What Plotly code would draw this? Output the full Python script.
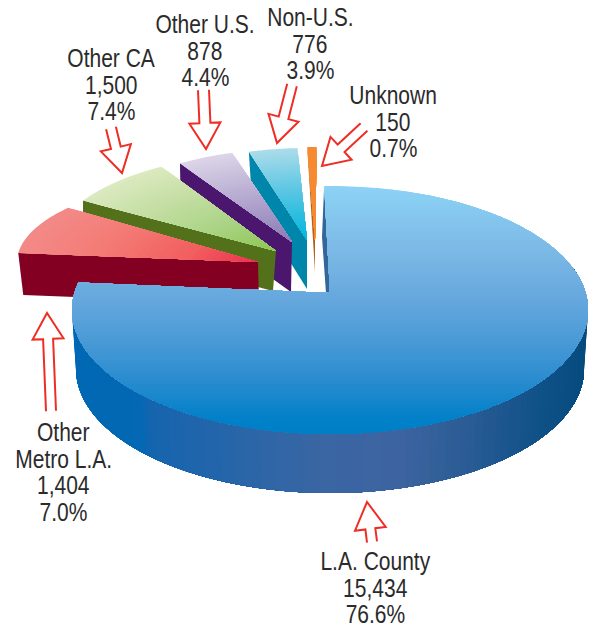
import math
import plotly.graph_objects as go

# ---- data ----
names = ["L.A. County", "Other Metro L.A.", "Other CA", "Other U.S.", "Non-U.S.", "Unknown"]
values = [15434, 1404, 1500, 878, 776, 150]
value_labels = ["15,434", "1,404", "1,500", "878", "776", "150"]
pct_labels = ["76.6%", "7.0%", "7.4%", "4.4%", "3.9%", "0.7%"]

# ---- style: projection of each exploded slice on the page ----
W, H = 594, 628
FONT = "Liberation Sans"
STYLE = {
    "Other Metro L.A.": dict(apex=(258, 262), rx=241, ry=88, k=1.28, shift=0, depth=42, skew=(1, 5),
                             ramp=[(0, "#ec3050"), (.3, "#f1605f"), (.7, "#f47d78"), (1, "#f38a88")], face="#830022"),
    "Other CA": dict(apex=(276, 251), rx=225, ry=98, k=1.06, shift=0, depth=40, skew=(-3, 0),
                     ramp=[(0, "#8cc653"), (.4, "#aed58a"), (1, "#dce9c0")], face="#53701a"),
    "Other U.S.": dict(apex=(292, 242), rx=210, ry=93, k=1, shift=0, depth=50, skew=(-1, 1),
                       ramp=[(0, "#8b7ab5"), (.5, "#b3a7cf"), (1, "#dcd5e8")], face="#4a166e"),
    "Non-U.S.": dict(apex=(307, 240), rx=204, ry=92, k=1, shift=0, depth=49, skew=(0, 3),
                     ramp=[(0, "#00b6de"), (.5, "#52c4e2"), (1, "#acdcea")], face="#0086ab"),
    "Unknown": dict(apex=(315, 240), rx=205, ry=93, k=1, shift=0.5, depth=32, skew=(0, None),
                    ramp=[(0, "#f58a30"), (1, "#f58a30")], face="#b5611a"),
}
MAIN = dict(apex=(330, 293), cx=330, cy=310, rx=258, ry=124, start=-1.3, k=1.03,
            cx2=330, cy2=369, rx2=254, ry2=124)
TOP_RAMP = [(186, "#8dd3f6"), (250, "#7cb9e6"), (300, "#65a7dd"), (340, "#4a9ad6"),
            (380, "#2a8ccf"), (420, "#0080c8"), (434, "#007fc6")]
SIDE_RAMP = [(72, "#0068b4"), (140, "#0468b4"), (150, "#1565ae"), (320, "#3a66a3"), (400, "#3d64a0"),
             (470, "#2a5b94"), (540, "#0f5288"), (588, "#064b7e")]
ARROW = "#ee2e24"
# arrow: tail centre, tip, head length, head width, shaft width
ARROWS = [
    ((372, 542), (367, 502), 27, 31, 10),
    ((51, 411), (47, 313), 26, 31, 10),
    ((111, 128), (122, 173), 26, 31, 10),
    ((203.5, 90), (206, 149), 26, 31, 11),
    ((292, 85), (277, 143), 26, 31, 10),
    ((364, 127), (322, 166), 26, 31, 10),
]
# label: centre x, y of first line, optional split of the name
LABELS = {
    "L.A. County": (375, 561, ["L.A. County"]),
    "Other Metro L.A.": (63, 432, ["Other", "Metro L.A."]),
    "Other CA": (111, 58, ["Other CA"]),
    "Other U.S.": (205, 24, ["Other U.S."]),
    "Non-U.S.": (310, 17, ["Non-U.S."]),
    "Unknown": (393, 95, ["Unknown"]),
}
LINE = 26.7
NARROW = 0.84


def rgb(h):
    return tuple(int(h[i:i + 2], 16) for i in (1, 3, 5))


def ramp_color(ramp, t):
    if t <= ramp[0][0]:
        return ramp[0][1]
    for (a, ca), (b, cb) in zip(ramp, ramp[1:]):
        if t <= b:
            f = (t - a) / (b - a)
            c = [round(u + (v - u) * f) for u, v in zip(rgb(ca), rgb(cb))]
            return "#%02x%02x%02x" % tuple(c)
    return ramp[-1][1]


fig = go.Figure()


def add_poly(p, color):
    xs = [q[0] for q in p] + [p[0][0]]
    ys = [q[1] for q in p] + [p[0][1]]
    fig.add_trace(go.Scatter(x=xs, y=ys, mode="none", fill="toself", fillcolor=color,
                             hoverinfo="skip", showlegend=False))


def clip_below(poly, y0):
    """keep the part of the polygon with y >= y0"""
    out = []
    for i, p in enumerate(poly):
        q = poly[(i + 1) % len(poly)]
        pin, qin = p[1] >= y0, q[1] >= y0
        if pin:
            out.append(p)
        if pin != qin:
            f = (y0 - p[1]) / (q[1] - p[1])
            out.append((p[0] + (q[0] - p[0]) * f, y0))
    return out


total = sum(values)
sweeps = [v / total * 360 for v in values]
ranges = {}
a = 0.0
for n, s in zip(names, sweeps):
    ranges[n] = (a, a + s)
    a += s

# exploded slices, back to front
for n in reversed(names[1:]):
    st = STYLE[n]
    a0, a1 = ranges[n]
    a0 += st["shift"]
    a1 = a0 + (a1 - ranges[n][0]) * st["k"]
    ax, ay = st["apex"]

    def P(th, r):
        t = math.radians(th)
        return (ax + r * st["rx"] * math.sin(t), ay - r * st["ry"] * math.cos(t))

    L = P(a0, 1)
    d = st["depth"]
    sk = st["skew"]
    if sk[1] is None:
        face = [L, (ax, ay), (ax, ay + d)]
    else:
        face = [L, (ax, ay), (ax + sk[0], ay + d), (L[0] + sk[1], L[1] + d)]
    add_poly(face, st["face"])

    bands = 36
    steps = 24
    ths = [a0 + (a1 - a0) * i / steps for i in range(steps + 1)]
    for b in range(bands, 0, -1):
        r = b / bands
        add_poly([(ax, ay)] + [P(t, r) for t in ths], ramp_color(st["ramp"], r - 0.5 / bands))

# main slice
m = MAIN
end = m["start"] + sweeps[0] * m["k"]


def E(th):
    t = math.radians(th)
    return (m["cx"] + m["rx"] * math.sin(t), m["cy"] - m["ry"] * math.cos(t))


def E2(th):
    t = math.radians(th)
    return (m["cx2"] + m["rx2"] * math.sin(t), m["cy2"] - m["ry2"] * math.cos(t))


# rim, painted from the left end towards the right so that no seams show
N = 110
T0 = 70
for i in range(N):
    ti = end + (T0 - end) * i / N
    ts = [ti + (T0 - ti) * j / 90 for j in range(91)]
    poly = [E(t) for t in ts] + [E2(t) for t in reversed(ts)]
    add_poly(poly, ramp_color(SIDE_RAMP, E(ti + (T0 - end) * 0.5 / N)[0]))

# cut face next to the twelve o'clock edge
ax, ay = m["apex"]
c0 = E(m["start"])
add_poly([c0, (ax - 8, ay - 56), (ax - 4, ay), (ax, ay)], "#336699")

# top, painted from the far edge downwards
arc = [E(m["start"] + (end - m["start"]) * i / 240) for i in range(241)]
wedge = [(ax, ay)] + arc
y = 186
while y < 434:
    poly = clip_below(wedge, y)
    if poly:
        add_poly(poly, ramp_color(TOP_RAMP, y + 1.5))
    y += 3


# arrows
def arrow_path(tail, tip, hl, hw, sw):
    dx, dy = tip[0] - tail[0], tip[1] - tail[1]
    ln = math.hypot(dx, dy)
    ux, uy = dx / ln, dy / ln
    nx, ny = -uy, ux
    bx, by = tip[0] - ux * hl, tip[1] - uy * hl
    pts = [(tail[0] + nx * sw / 2, tail[1] + ny * sw / 2), (bx + nx * sw / 2, by + ny * sw / 2),
           (bx + nx * hw / 2, by + ny * hw / 2), tip, (bx - nx * hw / 2, by - ny * hw / 2),
           (bx - nx * sw / 2, by - ny * sw / 2), (tail[0] - nx * sw / 2, tail[1] - ny * sw / 2)]
    return "M " + " L ".join(f"{x:.1f} {y:.1f}" for x, y in pts)


shapes = [dict(type="path", xref="x", yref="y", path=arrow_path(*a_), line=dict(color=ARROW, width=2),
               fillcolor="rgba(0,0,0,0)", layer="above") for a_ in ARROWS]

# labels
annots = []
for n, vl, pl in zip(names, value_labels, pct_labels):
    x0, y0, name_lines = LABELS[n]
    for i, txt in enumerate(name_lines + [vl, pl]):
        annots.append(dict(x=x0, y=y0 + i * LINE, xref="x", yref="y", text=txt, showarrow=False,
                           xanchor="center", yanchor="middle",
                           font=dict(family=FONT, size=25, color="#2b2b2b")))

fig.update_layout(
    width=W, height=H, margin=dict(l=0, r=0, t=0, b=0), paper_bgcolor="white", plot_bgcolor="white",
    xaxis=dict(range=[0, W], visible=False, fixedrange=True),
    yaxis=dict(range=[H, 0], visible=False, fixedrange=True),
    shapes=shapes, annotations=annots, showlegend=False,
)
post = """
document.body.style.margin = '0';
document.querySelectorAll('.annotation-text').forEach(function (t) {
  t.setAttribute('textLength', t.getComputedTextLength() * %s);
  t.setAttribute('lengthAdjust', 'spacingAndGlyphs');
});
""" % NARROW
fig.write_html("out.html", post_script=post, config={"displayModeBar": False})
